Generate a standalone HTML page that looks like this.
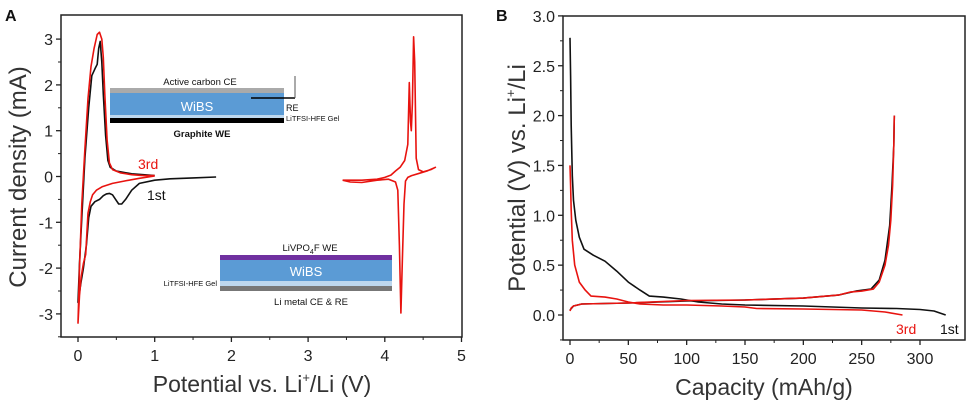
<!DOCTYPE html>
<html><head><meta charset="utf-8"><style>
body{margin:0;background:#fff;width:978px;height:405px;overflow:hidden;font-family:"Liberation Sans",sans-serif}
svg text{font-family:"Liberation Sans",sans-serif}
</style></head><body>
<svg id="svg" width="978" height="405">
<g id="A"></g>
<g id="B"></g>
</svg>
<script>
// Panel A data (potential V, current mA)
const aXTicks=[0,1,2,3,4,5];
const aYTicks=[-3,-2,-1,0,1,2,3];
const a1stX=[1.8,1.5,1.2,1.0,0.8,0.7,0.62,0.57,0.53,0.49,0.45,0.41,0.37,0.33,0.28,0.22,0.17,0.14,0.11,0.07,0.04,0.0,0.02,0.05,0.09,0.14,0.18,0.22,0.25,0.27,0.29,0.31,0.33,0.36,0.39,0.42,0.5,0.7,1.0];
const a1stY=[-0.01,-0.03,-0.05,-0.08,-0.15,-0.3,-0.5,-0.6,-0.6,-0.5,-0.4,-0.37,-0.38,-0.42,-0.5,-0.55,-0.65,-0.9,-1.5,-2.0,-2.3,-2.75,-1.9,-0.9,0.4,1.5,2.2,2.35,2.45,2.8,2.95,2.5,1.8,0.9,0.35,0.2,0.12,0.06,0.02];
const a3rdX=[1.0,0.8,0.6,0.45,0.32,0.24,0.19,0.16,0.13,0.1,0.07,0.04,0.02,0.0,0.02,0.05,0.09,0.13,0.17,0.21,0.25,0.28,0.31,0.33,0.35,0.38,0.41,0.45,0.55,0.7,0.85,1.0];
const a3rdY=[0.01,-0.04,-0.1,-0.15,-0.22,-0.3,-0.4,-0.55,-0.8,-1.7,-1.9,-2.2,-2.6,-3.2,-2.0,-0.6,0.6,1.7,2.4,2.8,3.1,3.15,3.0,2.6,1.8,0.8,0.3,0.15,0.08,0.04,0.02,0.02];
const aHighX=[3.45,3.7,3.9,4.0,4.08,4.14,4.2,4.26,4.3,4.32,4.335,4.345,4.36,4.375,4.39,4.41,4.44,4.5,4.6,4.66,4.63,4.55,4.45,4.35,4.3,4.27,4.25,4.23,4.21,4.19,4.17,4.14,4.05,3.9,3.7,3.55,3.45];
const aHighY=[-0.08,-0.08,-0.06,-0.02,0.03,0.12,0.2,0.35,0.7,2.05,1.2,1.0,1.6,3.05,2.5,0.4,0.15,0.1,0.15,0.2,0.18,0.12,0.07,0.02,-0.02,-0.1,-0.6,-1.8,-2.98,-1.5,-0.3,-0.12,-0.06,-0.08,-0.13,-0.12,-0.08];
// Panel B data (capacity mAh/g, potential V)
const bXTicks=[0,50,100,150,200,250,300];
const bYTicks=[0.0,0.5,1.0,1.5,2.0,2.5,3.0];
const b1stDisX=[0,0.5,1,2,3,5,8,12,20,30,40,50,60,68,80,95,110,130,150,200,250,280,300,312,322];
const b1stDisY=[2.78,2.4,1.9,1.4,1.15,0.95,0.78,0.66,0.6,0.54,0.44,0.33,0.25,0.19,0.18,0.16,0.13,0.11,0.1,0.09,0.07,0.065,0.055,0.04,0.0];
const b1stChX=[0,3,10,50,100,150,200,230,245,258,265,270,274,276,277.5,278];
const b1stChY=[0.05,0.09,0.11,0.12,0.14,0.15,0.17,0.2,0.24,0.26,0.35,0.55,0.9,1.3,1.7,2.0];
const b3rdDisX=[0,0.5,1,2,4,8,13,18,30,40,50,60,80,100,130,150,160,200,250,270,285];
const b3rdDisY=[1.5,1.3,1.05,0.75,0.5,0.33,0.25,0.19,0.18,0.16,0.13,0.11,0.1,0.1,0.09,0.08,0.065,0.06,0.05,0.03,0.0];
const b3rdChX=[0,1,3,10,30,50,100,150,200,230,240,250,260,265,270,273,275,276.5,277.5,278];
const b3rdChY=[0.04,0.07,0.09,0.11,0.115,0.12,0.145,0.15,0.17,0.2,0.23,0.24,0.26,0.33,0.5,0.7,0.95,1.3,1.7,2.0];

const NS="http://www.w3.org/2000/svg";
function mk(parent,tag,attrs,text){const e=document.createElementNS(NS,tag);for(const k in attrs)e.setAttribute(k,attrs[k]);if(text!==undefined)e.textContent=text;parent.appendChild(e);return e;}

const axA=v=>78+v*76.7, ayA=v=>176.5-v*45.8;
const bxB=v=>570+v*(350/300), byB=v=>315-v*99.7;
const A=document.getElementById('A'), B=document.getElementById('B');

function axes(g,box,xt,yt,sx,sy,xminor,yminor,fmtY){
  const fr=mk(g,'rect',{x:box[0],y:box[1],width:box[2]-box[0],height:box[3]-box[1],fill:'none',stroke:'#222','stroke-width':1.5});
  
  
  xt.forEach((t,i)=>{
    const x=sx(t);
    const l=mk(g,'line',{x1:x,x2:x,y1:box[3],y2:box[3]+5,stroke:'#222','stroke-width':1.3});
    
    
    const tx=mk(g,'text',{x:x,y:box[3]+24,'text-anchor':'middle','font-size':16,fill:'#222'},String(t));
    
    
    if(i<xt.length-1){const m=sx(t+xminor);mk(g,'line',{x1:m,x2:m,y1:box[3],y2:box[3]+3,stroke:'#222','stroke-width':1});}
  });
  yt.forEach((t,i)=>{
    const y=sy(t);
    const l=mk(g,'line',{x1:box[0]-5,x2:box[0],y1:y,y2:y,stroke:'#222','stroke-width':1.3});
    
    
    const tx=mk(g,'text',{x:box[0]-8,y:y+6,'text-anchor':'end','font-size':16,fill:'#222'},fmtY(t));
    
    
    if(i<yt.length-1){const m=sy(t+yminor);mk(g,'line',{x1:box[0]-3,x2:box[0],y1:m,y2:m,stroke:'#222','stroke-width':1});}
  });
}
function line(g,xs,ys,sx,sy,color,name){
  const p=mk(g,'polyline',{points:xs.map((x,i)=>sx(x).toFixed(1)+','+sy(ys[i]).toFixed(1)).join(' '),fill:'none',stroke:color,'stroke-width':1.6,'stroke-linejoin':'round'});
  
  
}

axes(A,[61,15,462,337],aXTicks,aYTicks,axA,ayA,0.5,0.5,t=>String(t));
mk(A,'line',{x1:58,x2:61,y1:ayA(-3.5),y2:ayA(-3.5),stroke:'#222'});
line(A,a1stX,a1stY,axA,ayA,'#111','cv-1st-cycle');
line(A,a3rdX,a3rdY,axA,ayA,'#e8130f','cv-3rd-cycle');
line(A,aHighX,aHighY,axA,ayA,'#e8130f','cv-cathode-curve');

const g=A;
function t(par,x,y,s,size,attrs,name){const e=mk(par,'text',Object.assign({x:x,y:y,'font-size':size,fill:'#111'},attrs||{}),s);return e;}
mk(g,'rect',{x:110,y:88,width:174,height:5,fill:'#aaa'});
mk(g,'rect',{x:110,y:93,width:174,height:22,fill:'#5b9bd5'});
mk(g,'rect',{x:110,y:115,width:174,height:3,fill:'#bdd7ee'});
mk(g,'rect',{x:110,y:118,width:174,height:5,fill:'#000'});
mk(g,'line',{x1:251,x2:295,y1:98,y2:98,stroke:'#000','stroke-width':1.5});
mk(g,'line',{x1:295,x2:295,y1:76,y2:98,stroke:'#555','stroke-width':1});
t(g,197,111,'WiBS',13,{fill:'#fff','text-anchor':'middle'},'inset-wibs-label');
t(g,200,85,'Active carbon  CE',9.5,{'text-anchor':'middle'},'inset-ce-label');
t(g,286,111,'RE',9,{},'inset-re-label');
t(g,286,121,'LiTFSI-HFE Gel',7.5,{},'inset-gel-label');
t(g,202,137,'Graphite WE',9.5,{'text-anchor':'middle','font-weight':'bold'},'inset-we-label');
mk(g,'rect',{x:220,y:255,width:172,height:5,fill:'#7030a0'});
mk(g,'rect',{x:220,y:260,width:172,height:21,fill:'#5b9bd5'});
mk(g,'rect',{x:220,y:281,width:172,height:5,fill:'#bdd7ee'});
mk(g,'rect',{x:220,y:286,width:172,height:5,fill:'#777'});
t(g,306,276,'WiBS',13,{fill:'#fff','text-anchor':'middle'},'inset2-wibs-label');
const lv=t(g,310,251,'LiVPO',9.5,{'text-anchor':'middle'},'inset2-we-label');
lv.innerHTML='LiVPO<tspan font-size="7" dy="3">4</tspan><tspan dy="-3">F WE</tspan>';
t(g,217,286,'LiTFSI-HFE Gel',7.5,{'text-anchor':'end'},'inset2-gel-label');
t(g,311,305,'Li metal CE & RE',9.5,{'text-anchor':'middle'},'inset2-ce-label');
t(g,138,169,'3rd',14,{fill:'#e8130f'},'label-3rd');
t(g,147,200,'1st',14,{},'label-1st');
t(g,5,21,'A',16,{'font-weight':'bold'},'panel-a-letter');
t(g,0,0,'Current density (mA)',24,{'text-anchor':'middle',transform:'translate(26,177) rotate(-90)',fill:'#333'},'y-axis-title-a');
const xa=t(g,262,392,'',23,{'text-anchor':'middle',fill:'#333'},'x-axis-title-a');
xa.innerHTML='Potential vs. Li<tspan font-size="13" dy="-10">+</tspan><tspan dy="10">/Li (V)</tspan>';

axes(B,[563,16,965,340],bXTicks,bYTicks,bxB,byB,25,0.25,v=>v.toFixed(1));
mk(B,'line',{x1:560,x2:563,y1:byB(-0.25),y2:byB(-0.25),stroke:'#222'});
line(B,b1stDisX,b1stDisY,bxB,byB,'#111','gcd-1st-discharge');
line(B,b1stChX,b1stChY,bxB,byB,'#111','gcd-1st-charge');
line(B,b3rdDisX,b3rdDisY,bxB,byB,'#e8130f','gcd-3rd-discharge');
line(B,b3rdChX,b3rdChY,bxB,byB,'#e8130f','gcd-3rd-charge');
t(B,896,334,'3rd',14,{fill:'#e8130f'},'label-3rd-b');
t(B,940,334,'1st',14,{},'label-1st-b');
t(B,496,21,'B',16,{'font-weight':'bold'},'panel-b-letter');
const yb=t(B,0,0,'',24,{'text-anchor':'middle',transform:'translate(525,178) rotate(-90)',fill:'#333'},'y-axis-title-b');
yb.innerHTML='Potential (V) vs. Li<tspan font-size="13" dy="-10">+</tspan><tspan dy="10">/Li</tspan>';
t(B,764,395,'Capacity (mAh/g)',23,{'text-anchor':'middle',fill:'#333'},'x-axis-title-b');
</script>
</body></html>
